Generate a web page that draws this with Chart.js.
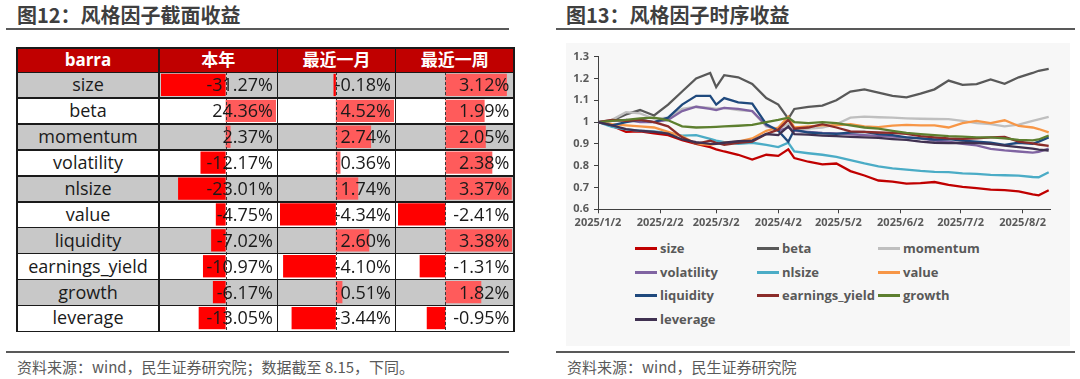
<!DOCTYPE html>
<html>
<head>
<meta charset="utf-8">
<title>风格因子收益</title>
<script src="https://cdn.jsdelivr.net/npm/chart.js@4.4.1/dist/chart.umd.min.js"></script>
<style>
  body { margin:0; width:1080px; height:379px; background:#fff; position:relative; overflow:hidden;
         font-family:"Open Sans","Noto Sans CJK SC",sans-serif; }
  .abs { position:absolute; }
  .title { position:absolute; top:4px; font:bold 20px/22px "Noto Sans CJK SC"; color:#3f3f3f; white-space:nowrap; }
  .rule { position:absolute; height:2px; background:#595959; }
  .src { position:absolute; top:358px; font:15px/17px "Noto Sans CJK SC"; color:#595959; white-space:nowrap; }
  .txt { position:absolute; z-index:2; white-space:nowrap; }
  .leg { position:absolute; font:bold 13px/16px "Open Sans","Noto Sans CJK SC"; color:#595959; white-space:nowrap; }
  .leg i { position:absolute; left:0; top:7px; width:22px; height:3px; }
  .leg span { position:absolute; left:25px; top:0; }
</style>
</head>
<body>
<div class="title" style="left:17px">图12：风格因子截面收益</div>
<div class="rule" style="left:6px;width:503px;top:28px"></div>
<div class="title" style="left:566px">图13：风格因子时序收益</div>
<div class="rule" style="left:556px;width:519px;top:28px"></div>
<div class="abs" style="left:566px;top:43px;width:504px;height:303px;background:#f7f7f7"></div>
<canvas id="lineChart" class="abs" width="500" height="190" style="left:558px;top:45px"></canvas>
<div class="rule" style="left:6px;width:503px;top:351px"></div>
<div class="rule" style="left:556px;width:519px;top:351px"></div>
<div class="src" style="left:17px">资料来源：wind，民生证券研究院；数据截至 8.15，下同。</div>
<div class="src" style="left:567px">资料来源：wind，民生证券研究院</div>
<script>
// table: cross-section returns (%)
const headers = ['barra', '本年', '最近一月', '最近一周'];
const factors = ['size','beta','momentum','volatility','nlsize','value','liquidity','earnings_yield','growth','leverage'];
const ytd       = [-31.27, 24.36, 2.37, -12.17, -23.01, -4.75, -7.02, -10.97, -6.17, -13.05];
const lastMonth = [-0.18, 4.52, 2.74, 0.36, 1.74, -4.34, 2.60, -4.10, 0.51, -3.44];
const lastWeek  = [3.12, 1.99, 2.05, 2.38, 3.37, -2.41, 3.38, -1.31, 1.82, -0.95];

// time series, x = days after 2025/1/2
const days = [0,7,14,21,28,35,42,49,56,59,63,70,77,84,90,95,98,105,112,119,126,133,140,147,154,161,168,175,182,189,196,203,210,217,220,225];
const size       = [1.0,0.982,0.955,0.957,0.948,0.94,0.917,0.9,0.885,0.875,0.865,0.85,0.828,0.85,0.845,0.875,0.835,0.818,0.806,0.81,0.775,0.755,0.732,0.727,0.718,0.72,0.725,0.712,0.703,0.697,0.69,0.688,0.682,0.668,0.664,0.6873];
const beta       = [1.0,1.007,1.035,1.055,1.03,1.08,1.14,1.2,1.225,1.16,1.215,1.205,1.175,1.11,1.08,1.015,1.06,1.07,1.075,1.1,1.14,1.15,1.135,1.12,1.113,1.13,1.15,1.19,1.17,1.174,1.195,1.175,1.205,1.225,1.235,1.2436];
const momentum   = [1.0,1.01,1.045,1.04,1.015,1.02,1.06,1.07,1.065,1.06,1.065,1.055,1.05,0.98,0.97,0.99,0.965,0.97,0.975,0.99,1.02,1.025,1.022,1.02,1.017,1.015,1.014,1.013,1.005,0.995,0.99,0.98,0.988,1.005,1.012,1.0237];
const volatility = [1.0,1.005,1.01,1.0,1.0,1.01,1.05,1.07,1.06,1.055,1.065,1.06,1.05,0.985,0.96,0.975,0.96,0.955,0.95,0.948,0.943,0.94,0.937,0.933,0.93,0.925,0.915,0.91,0.9,0.893,0.877,0.87,0.865,0.86,0.863,0.8783];
const nlsize     = [1.0,0.978,0.966,0.96,0.957,0.95,0.938,0.94,0.923,0.915,0.908,0.9,0.905,0.895,0.885,0.905,0.865,0.857,0.85,0.84,0.825,0.81,0.797,0.788,0.782,0.776,0.772,0.77,0.765,0.762,0.758,0.756,0.754,0.748,0.747,0.7699];
const value      = [1.0,0.99,0.985,0.98,0.975,0.955,0.935,0.9,0.895,0.9,0.905,0.91,0.925,0.96,0.975,1.025,0.975,0.98,0.985,0.985,0.99,0.98,0.977,0.984,0.987,0.985,0.985,0.975,0.995,1.005,0.995,1.008,0.982,0.975,0.968,0.9525];
const liquidity  = [1.0,0.985,1.0,1.01,1.0,1.02,1.08,1.12,1.12,1.08,1.11,1.09,1.085,0.99,0.96,0.91,0.965,0.952,0.948,0.946,0.952,0.955,0.945,0.94,0.93,0.925,0.92,0.922,0.915,0.91,0.905,0.895,0.905,0.9,0.91,0.9298];
const earningsYield = [1.0,1.01,1.005,1.01,1.0,0.98,0.93,0.9,0.915,0.905,0.895,0.905,0.91,0.945,0.965,1.01,0.97,0.975,0.99,0.975,0.957,0.955,0.952,0.95,0.946,0.935,0.93,0.925,0.923,0.925,0.93,0.932,0.91,0.902,0.897,0.8903];
const growth     = [1.0,1.005,1.01,1.017,1.02,1.008,0.98,0.975,0.977,0.978,0.98,0.983,0.987,1.0,1.01,1.02,1.0,0.995,1.0,0.995,0.985,0.975,0.97,0.96,0.95,0.945,0.94,0.935,0.933,0.93,0.93,0.925,0.918,0.916,0.92,0.9383];
const leverage   = [1.0,0.985,0.968,0.96,0.955,0.947,0.92,0.908,0.9,0.9,0.905,0.912,0.915,0.945,0.94,0.98,0.945,0.942,0.938,0.935,0.932,0.93,0.927,0.922,0.918,0.91,0.905,0.903,0.905,0.903,0.9,0.892,0.885,0.878,0.874,0.8695];

const xTickDays = [0,31,59,90,120,151,181,212];
const xTickLabels = ['2025/1/2','2025/2/2','2025/3/2','2025/4/2','2025/5/2','2025/6/2','2025/7/2','2025/8/2'];
const yTickValues = [0.6,0.7,0.8,0.9,1.0,1.1,1.2,1.3];
const yTickLabels = ['0.6','0.7','0.8','0.9','1','1.1','1.2','1.3'];

const seriesValues = [size, beta, momentum, volatility, nlsize, value, liquidity, earningsYield, growth, leverage];
const seriesColors = ['#c00000','#595959','#bfbfbf','#8064a2','#4bacc6','#f79646','#1f497d','#8b2c2a','#5d7f2f','#403151'];

Chart.defaults.font.family = '"Open Sans", "Noto Sans CJK SC", sans-serif';

// ---------- table ----------
const colEdges = [17, 159, 277.5, 395.5, 514];
const headTop = 48, headBottom = 72.3, rowH = 25.9;
const tableBottom = headBottom + rowH * factors.length;

function box(l, t, w, h, bg, z) {
  const d = document.createElement('div');
  d.style.cssText = 'position:absolute;left:' + l + 'px;top:' + t + 'px;width:' + w + 'px;height:' + h + 'px;background:' + bg + ';' + (z ? 'z-index:' + z + ';' : '');
  document.body.appendChild(d);
  return d;
}
function text(str, l, t, w, h, align, font, color, pad) {
  const d = document.createElement('div');
  d.className = 'txt';
  d.textContent = str;
  d.style.cssText += 'left:' + l + 'px;top:' + t + 'px;width:' + (w - (pad || 0)) + 'px;height:' + h + 'px;line-height:' + h + 'px;text-align:' + align + ';font:' + font + ';line-height:' + h + 'px;color:' + color + ';';
  document.body.appendChild(d);
}

const tableW = colEdges[4] - colEdges[0];
box(colEdges[0], headTop, tableW, headBottom - headTop, '#c00000');
factors.forEach((f, i) => {
  box(colEdges[0], headBottom + i * rowH, tableW, rowH, i % 2 === 0 ? '#c8c8c8' : '#ffffff');
});
// grid lines
box(colEdges[0] - 0.75, headTop - 0.75, tableW + 1.5, 1.5, '#1a1a1a', 3);
for (let i = 0; i <= factors.length; i++) {
  box(colEdges[0] - 0.75, headBottom + i * rowH - 0.75, tableW + 1.5, 1.5, '#1a1a1a', 3);
}
colEdges.forEach(x => box(x - 0.75, headTop - 0.75, 1.5, tableBottom - headTop + 1.5, '#1a1a1a', 3));

headers.forEach((h, c) => {
  text(h, colEdges[c], headTop, colEdges[c + 1] - colEdges[c], headBottom - headTop, 'center',
       'bold 17px "Open Sans","Noto Sans CJK SC"', '#ffffff');
});
const columns = [ytd, lastMonth, lastWeek];
factors.forEach((f, i) => {
  const top = headBottom + i * rowH;
  text(f, colEdges[0], top, colEdges[1] - colEdges[0], rowH, 'center', '18px "Open Sans"', '#1a1a1a');
  columns.forEach((vals, c) => {
    text(vals[i].toFixed(2) + '%', colEdges[c + 1], top, colEdges[c + 2] - colEdges[c + 1], rowH, 'right', '18px "Open Sans"', '#1a1a1a', 4.5);
  });
});

// data bars: one horizontal bar chart per value column
const zeroLine = {
  id: 'zeroLine',
  afterDatasetsDraw(chart) {
    const x = Math.round(chart.scales.x.getPixelForValue(0)) + 0.5;
    const ctx = chart.ctx;
    ctx.save();
    ctx.strokeStyle = '#3a3a3a';
    ctx.lineWidth = 1;
    ctx.setLineDash([3, 2]);
    ctx.beginPath();
    ctx.moveTo(x, 0);
    ctx.lineTo(x, chart.height);
    ctx.stroke();
    ctx.restore();
  }
};
columns.forEach((vals, c) => {
  const left = Math.round(colEdges[c + 1] + 2);
  const right = Math.round(colEdges[c + 2] - 2);
  const cv = document.createElement('canvas');
  cv.width = right - left;
  cv.height = Math.round(tableBottom - headBottom);
  cv.style.cssText = 'position:absolute;z-index:1;left:' + left + 'px;top:' + Math.round(headBottom) + 'px;';
  document.body.appendChild(cv);
  new Chart(cv, {
    type: 'bar',
    data: {
      labels: factors,
      datasets: [{
        data: vals,
        backgroundColor: vals.map(v => v < 0 ? '#ff0000' : '#ff5b5b'),
        borderWidth: 0,
        barPercentage: 0.86,
        categoryPercentage: 1
      }]
    },
    options: {
      indexAxis: 'y',
      responsive: false,
      animation: false,
      devicePixelRatio: 1,
      layout: { padding: 0 },
      plugins: { legend: { display: false }, tooltip: { enabled: false } },
      scales: {
        x: { display: false, min: Math.min(0, ...vals), max: Math.max(0, ...vals) },
        y: { display: false }
      }
    },
    plugins: [zeroLine]
  });
});

// ---------- line chart ----------
const axisColor = '#404040';
const tickFont = { size: 11, weight: 'bold' };
const lineChart = new Chart(document.getElementById('lineChart'), {
  type: 'line',
  data: {
    datasets: factors.map((name, i) => ({
      label: name,
      data: days.map((d, j) => ({ x: d, y: seriesValues[i][j] })),
      borderColor: seriesColors[i],
      backgroundColor: seriesColors[i],
      borderWidth: 2.3,
      pointRadius: 0,
      tension: 0,
      order: factors.length - i
    }))
  },
  options: {
    responsive: false,
    animation: false,
    devicePixelRatio: 1,
    layout: { padding: { top: 10.7, right: 7.3, left: 0, bottom: 0 } },
    plugins: { legend: { display: false }, tooltip: { enabled: false } },
    scales: {
      x: {
        type: 'linear', min: 0, max: 226,
        afterBuildTicks: s => { s.ticks = xTickDays.map(v => ({ value: v })); },
        afterFit: s => { s.height = 25.7; },
        grid: { drawOnChartArea: false, tickLength: 4, color: axisColor },
        border: { color: axisColor, width: 1 },
        ticks: { callback: v => xTickLabels[xTickDays.indexOf(v)], font: tickFont, color: '#595959',
                 padding: 3, maxRotation: 0, autoSkip: false }
      },
      y: {
        min: 0.6, max: 1.3,
        afterBuildTicks: s => { s.ticks = yTickValues.map(v => ({ value: v })); },
        afterFit: s => { s.width = 40; },
        grid: { drawOnChartArea: false, tickLength: 4, color: axisColor },
        border: { color: axisColor, width: 1 },
        ticks: { callback: v => yTickLabels[yTickValues.indexOf(v)], font: tickFont, color: '#595959', padding: 5 }
      }
    }
  }
});

// legend: 3 columns, built from the chart's datasets
const legCols = [635, 757, 878];
const legRows = [240.3, 263.7, 287.3, 311];
lineChart.data.datasets.forEach((ds, i) => {
  const d = document.createElement('div');
  d.className = 'leg';
  d.style.left = legCols[i % 3] + 'px';
  d.style.top = legRows[Math.floor(i / 3)] + 'px';
  d.innerHTML = '<i style="background:' + ds.borderColor + '"></i><span>' + ds.label + '</span>';
  document.body.appendChild(d);
});
</script>
</body>
</html>
